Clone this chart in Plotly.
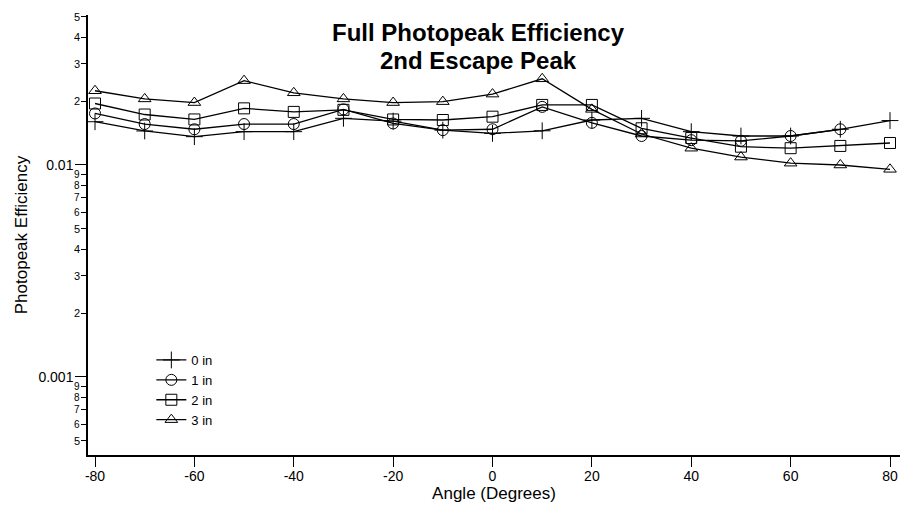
import numpy as np
import plotly.graph_objects as go

# Detector angle (degrees)
angles = [-80, -70, -60, -50, -40, -30, -20, -10, 0, 10, 20, 30, 40, 50, 60, 70, 80]

# Full photopeak efficiency (2nd escape peak) per absorber thickness
eff_0in = [0.0160, 0.01447, 0.0136, 0.01436, 0.01436, 0.0166, 0.0161, 0.0146, 0.0141,
           0.0145, 0.0163, 0.0166, 0.01436, 0.0137, 0.0137, 0.01474, 0.0162]
eff_1in = [0.0175, 0.0156, 0.01474, 0.0156, 0.0156, 0.0183, 0.0157, 0.0146, 0.01474,
           0.0188, 0.0158, 0.0137, 0.0131, 0.0130, 0.0137, 0.01474]
eff_2in = [0.0195, 0.0173, 0.0164, 0.0185, 0.0178, 0.0182, 0.0164, 0.0163, 0.0169,
           0.0192, 0.0192, 0.0149, 0.0134, 0.0122, 0.0120, 0.0123, 0.0127]
eff_3in = [0.0224, 0.0205, 0.0197, 0.0250, 0.0219, 0.0205, 0.0197, 0.0199, 0.0216,
           0.0255, 0.0183, 0.0140, 0.0120, 0.0109, 0.0102, 0.0100, 0.00954]

series = [
    ("0 in", eff_0in, "cross-thin-open", 12),
    ("1 in", eff_1in, "circle-open", 11),
    ("2 in", eff_2in, "square-open", 11),
    ("3 in", eff_3in, "triangle-up-open", 11),
]

title_lines = ["Full Photopeak Efficiency", "2nd Escape Peak"]

# Axis ticks
x_ticks = [-80, -60, -40, -20, 0, 20, 40, 60, 80]
x_tick_text = ["-80", "-60", "-40", "-20", "0", "20", "40", "60", "80"]
y_major_vals = [0.001, 0.01]
y_major_text = ["0.001", "0.01"]
y_minor_vals = [5e-4, 6e-4, 7e-4, 8e-4, 9e-4,
                2e-3, 3e-3, 4e-3, 5e-3, 6e-3, 7e-3, 8e-3, 9e-3,
                2e-2, 3e-2, 4e-2, 5e-2]
y_minor_text = ["5", "6", "7", "8", "9",
                "2", "3", "4", "5", "6", "7", "8", "9",
                "2", "3", "4", "5"]

FONT = "Liberation Sans, Arial, sans-serif"

fig = go.Figure()
for name, vals, sym, size in series:
    fig.add_trace(go.Scatter(
        x=angles[:len(vals)], y=vals, name=name, mode="lines+markers",
        line=dict(color="black", width=1.3),
        marker=dict(symbol=sym, size=size, color="black",
                    line=dict(color="black", width=1)),
    ))

annotations = []
# two-line bold title
for text, ypos in zip(title_lines, [0.961, 0.897]):
    annotations.append(dict(
        x=0.4815, xref="paper", y=ypos, yref="paper", text=f"<b>{text}</b>",
        showarrow=False, xanchor="center", yanchor="middle",
        font=dict(family=FONT, size=24, color="black"),
    ))
# minor decade labels on the log axis
for v, t in zip(y_minor_vals, y_minor_text):
    annotations.append(dict(
        x=0, xref="paper", y=np.log10(v), yref="y", text=t,
        showarrow=False, xanchor="right", yanchor="middle", xshift=-6,
        font=dict(family=FONT, size=11 if t in "2345" else 10, color="black"),
    ))

fig.update_layout(
    width=902, height=512,
    margin=dict(l=88, r=2, t=15, b=57),
    paper_bgcolor="white", plot_bgcolor="white",
    font=dict(family=FONT, color="black"),
    showlegend=True,
    legend=dict(x=0.078, y=0.25, xanchor="left", yanchor="top",
                bgcolor="rgba(0,0,0,0)", font=dict(family=FONT, size=13)),
    annotations=annotations,
    xaxis=dict(
        range=[-81.41, 82.01], tickvals=x_ticks, ticktext=x_tick_text,
        ticks="outside", ticklen=10, ticklabelstandoff=-3,
        tickwidth=1.3, tickcolor="black", showline=True, linecolor="black",
        linewidth=1.5, showgrid=False, zeroline=False,
        tickfont=dict(family=FONT, size=14),
        title=dict(text="Angle (Degrees)", font=dict(family=FONT, size=17), standoff=2),
    ),
    yaxis=dict(
        type="log", range=[-3.368, -1.2925],
        tickvals=y_major_vals, ticktext=y_major_text,
        ticks="outside", ticklen=11, ticklabelstandoff=-1,
        tickwidth=1.3, tickcolor="black",
        minor=dict(tickvals=y_minor_vals, ticks="outside", ticklen=5,
                   tickwidth=1.2, tickcolor="black"),
        showline=True, linecolor="black", linewidth=1.5,
        showgrid=False, zeroline=False,
        tickfont=dict(family=FONT, size=14),
        title=dict(text="Photopeak Efficiency", font=dict(family=FONT, size=17), standoff=6),
    ),
)

fig.write_html("out.html")
